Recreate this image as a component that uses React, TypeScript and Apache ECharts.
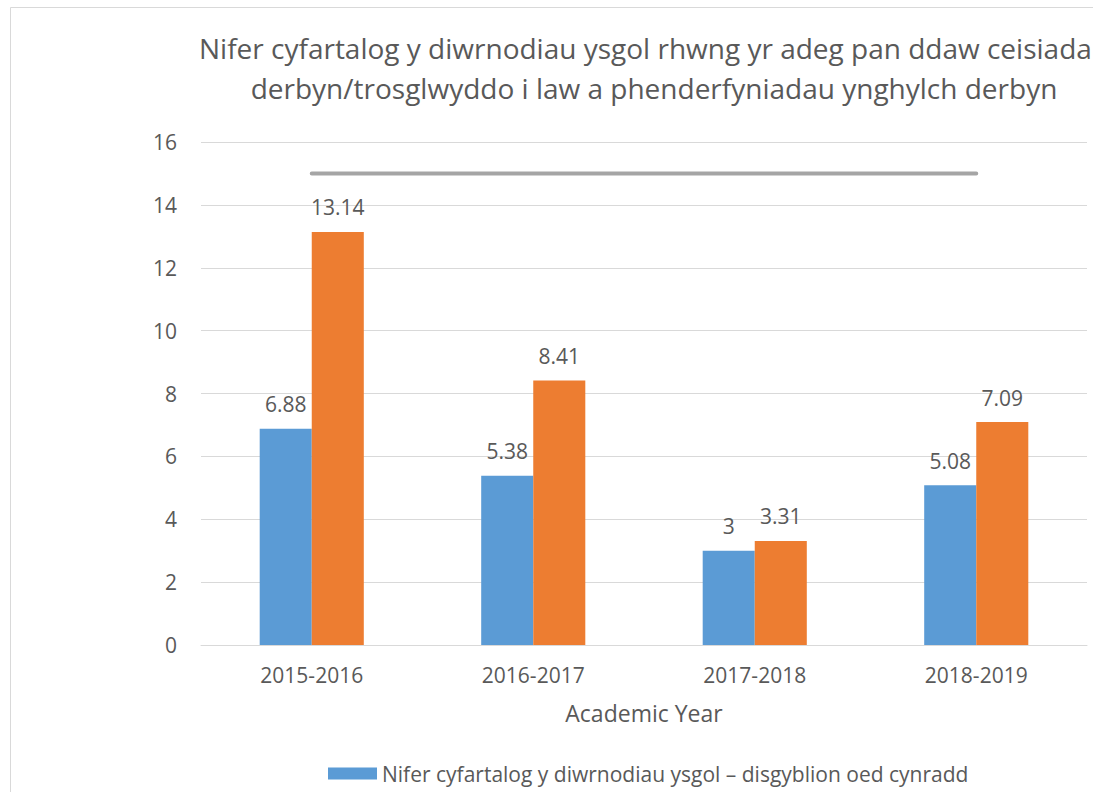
import React, { useEffect, useRef } from "react";
import * as echarts from "echarts";

const titleLines = [
  "Nifer cyfartalog y diwrnodiau ysgol rhwng yr adeg pan ddaw ceisiadau",
  "derbyn/trosglwyddo i law a phenderfyniadau ynghylch derbyn",
];
const categories = ["2015-2016", "2016-2017", "2017-2018", "2018-2019"];
const primaryName = "Nifer cyfartalog y diwrnodiau ysgol – disgyblion oed cynradd";
const primaryValues = [6.88, 5.38, 3, 5.08];
const secondaryName = "Nifer cyfartalog y diwrnodiau ysgol – disgyblion oed uwchradd";
const secondaryValues = [13.14, 8.41, 3.31, 7.09];
const targetName = "Targed";
const targetValues = [15, 15, 15, 15];
const xAxisName = "Academic Year";

const FONT = "'Open Sans', sans-serif";
const TEXT = "#595959";

export default function App() {
  const ref = useRef<HTMLDivElement>(null);
  useEffect(() => {
    if (!ref.current) return;
    const chart = echarts.init(ref.current, undefined, { renderer: "svg" });
    const W = 1288;
    const H = 860;
    chart.setOption({
      animation: false,
      backgroundColor: "#ffffff",
      textStyle: { fontFamily: FONT, color: TEXT },
      title: {
        text: titleLines.join("\n"),
        left: "center",
        top: 21,
        padding: 0,
        textStyle: {
          fontFamily: FONT,
          fontSize: 28,
          fontWeight: "normal",
          color: TEXT,
          lineHeight: 40,
        },
      },
      graphic: [
        {
          type: "rect",
          shape: { x: 0.5, y: 0.5, width: W - 1, height: H - 1 },
          style: { fill: "none", stroke: "#D9D9D9", lineWidth: 1 },
          silent: true,
        },
      ],
      legend: {
        data: [primaryName],
        left: 313,
        top: 751,
        itemWidth: 49,
        itemHeight: 12,
        itemGap: 10,
        icon: "rect",
        textStyle: { fontFamily: FONT, fontSize: 21, color: TEXT },
      },
      grid: { left: 191, right: 211, top: 135, bottom: 222, containLabel: false },
      xAxis: {
        type: "category",
        data: categories,
        name: xAxisName,
        nameLocation: "middle",
        nameGap: 56,
        nameTextStyle: { fontFamily: FONT, fontSize: 23, color: TEXT },
        axisLine: { lineStyle: { color: "#D9D9D9", width: 1 } },
        axisTick: { show: false },
        axisLabel: { fontFamily: FONT, fontSize: 21, color: TEXT, margin: 19 },
      },
      yAxis: {
        type: "value",
        min: 0,
        max: 16,
        interval: 2,
        axisLine: { show: false },
        axisTick: { show: false },
        axisLabel: { fontFamily: FONT, fontSize: 21, color: TEXT, margin: 24 },
        splitLine: { lineStyle: { color: "#D9D9D9", width: 1 } },
      },
      series: [
        {
          name: primaryName,
          type: "bar",
          data: primaryValues,
          barGap: "0%",
          barCategoryGap: "53%",
          itemStyle: { color: "#5B9BD5" },
          label: {
            show: true,
            position: "top",
            distance: 14,
            fontFamily: FONT,
            fontSize: 21,
            color: TEXT,
          },
        },
        {
          name: secondaryName,
          type: "bar",
          data: secondaryValues,
          barGap: "0%",
          barCategoryGap: "53%",
          itemStyle: { color: "#ED7D31" },
          label: {
            show: true,
            position: "top",
            distance: 14,
            fontFamily: FONT,
            fontSize: 21,
            color: TEXT,
          },
        },
        {
          name: targetName,
          type: "line",
          data: targetValues,
          symbol: "none",
          lineStyle: { color: "#A5A5A5", width: 4, cap: "round" },
          itemStyle: { color: "#A5A5A5" },
        },
      ],
    });
    return () => chart.dispose();
  }, []);
  return (
    <div
      style={{
        position: "fixed",
        left: 0,
        top: 0,
        width: 1093,
        height: 792,
        overflow: "hidden",
        background: "#ffffff",
      }}
    >
      <div
        ref={ref}
        style={{ position: "absolute", left: 10, top: 7, width: 1288, height: 860 }}
      />
    </div>
  );
}
